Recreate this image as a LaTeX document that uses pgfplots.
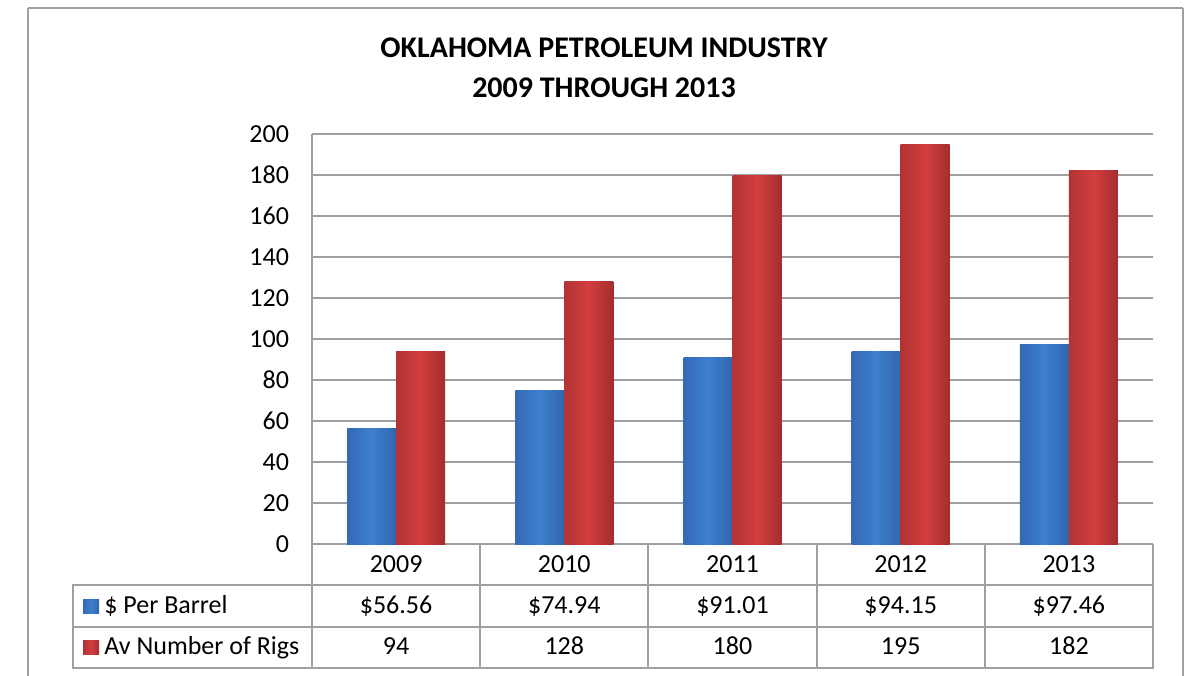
\documentclass[border=0pt]{standalone}
\usepackage{pgfplots}
\pgfplotsset{compat=1.18}
\usepackage{fontspec}
\setmainfont{Carlito}

\definecolor{gridgray}{HTML}{A0A0A0}
\definecolor{blueL}{HTML}{3469B4}
\definecolor{blueM}{HTML}{3D7FCE}
\definecolor{blueR}{HTML}{3166AE}
\definecolor{redL}{HTML}{B33333}
\definecolor{redM}{HTML}{D13E3E}
\definecolor{redR}{HTML}{A52D2D}

\newcommand{\tabfont}{\fontsize{13}{15}\selectfont}

% one style per series; each bar is its own plot so the shading fills it alone
\pgfplotsset{
  barrel/.style={ybar, bar width=24.5pt, bar shift=-12.25pt, draw=none,
    left color=blueL, right color=blueR, middle color=blueM},
  rigs/.style={ybar, bar width=24.5pt, bar shift=12.25pt, draw=none,
    left color=redL, right color=redR, middle color=redM},
}

\begin{document}
\begin{tikzpicture}
% page frame, title (coordinates in pixels of the reference, 1px = 0.5pt)
\begin{scope}[x=0.5pt,y=-0.5pt]
  \useasboundingbox (0,0) rectangle (1193,675);
  \draw[gridgray, line width=1pt] (28,8) -- (28,690) (1183,8) -- (1183,690) (28,8) -- (1183,8);
  \node[anchor=base, font=\fontsize{15}{18}\selectfont\bfseries] at (604,57) {OKLAHOMA PETROLEUM INDUSTRY};
  \node[anchor=base, font=\fontsize{15}{18}\selectfont\bfseries] at (604,97) {2009 THROUGH 2013};
\end{scope}

\begin{axis}[
  at={(156pt,-272pt)}, anchor=south west,
  width=420.5pt, height=205pt, scale only axis,
  xmin=-0.5, xmax=4.5, ymin=0, ymax=200,
  xtick=\empty,
  ytick={0,20,...,200},
  ymajorgrids,
  grid style={gridgray, line width=1pt},
  axis x line*=bottom, axis y line*=left,
  axis line style={gridgray, line width=1pt, -},
  major tick length=0pt,
  tick label style={font=\tabfont},
  yticklabel style={xshift=-8pt},
  /pgf/number format/assume math mode=true,
  clip=false,
]
% $ per barrel
\addplot[barrel] coordinates {(0,56.56)};
\addplot[barrel] coordinates {(1,74.94)};
\addplot[barrel] coordinates {(2,91.01)};
\addplot[barrel] coordinates {(3,94.15)};
\addplot[barrel] coordinates {(4,97.46)};
% average number of rigs
\addplot[rigs] coordinates {(0,94)};
\addplot[rigs] coordinates {(1,128)};
\addplot[rigs] coordinates {(2,180)};
\addplot[rigs] coordinates {(3,195)};
\addplot[rigs] coordinates {(4,182)};
\end{axis}

% data table below the plot
\begin{scope}[x=0.5pt,y=-0.5pt]
  \draw[gridgray, line width=1pt]
    (312,544) -- (312,668)
    (480.2,544) -- (480.2,668)
    (648.4,544) -- (648.4,668)
    (816.6,544) -- (816.6,668)
    (984.8,544) -- (984.8,668)
    (1153,544) -- (1153,668)
    (312,585) -- (1153,585)
    (73,585) rectangle (1153,668)
    (73,627) -- (1153,627);
  \fill[left color=blueL, right color=blueR, middle color=blueM] (83,599) rectangle (99,613);
  \fill[left color=redL, right color=redR, middle color=redM] (83,640) rectangle (99,654);
  \node[anchor=base west, inner sep=0pt, font=\tabfont] at (104,613) {\$ Per Barrel};
  \node[anchor=base west, inner sep=0pt, font=\tabfont] at (104,654) {Av Number of Rigs};
  \foreach \x/\yr/\pr/\rg in {396.1/2009/56.56/94, 564.3/2010/74.94/128, 732.5/2011/91.01/180, 900.7/2012/94.15/195, 1068.9/2013/97.46/182} {
    \node[anchor=base, inner sep=0pt, font=\tabfont] at (\x,572) {\yr};
    \node[anchor=base, inner sep=0pt, font=\tabfont] at (\x,613) {\$\pr};
    \node[anchor=base, inner sep=0pt, font=\tabfont] at (\x,654) {\rg};
  }
\end{scope}
\end{tikzpicture}
\end{document}
